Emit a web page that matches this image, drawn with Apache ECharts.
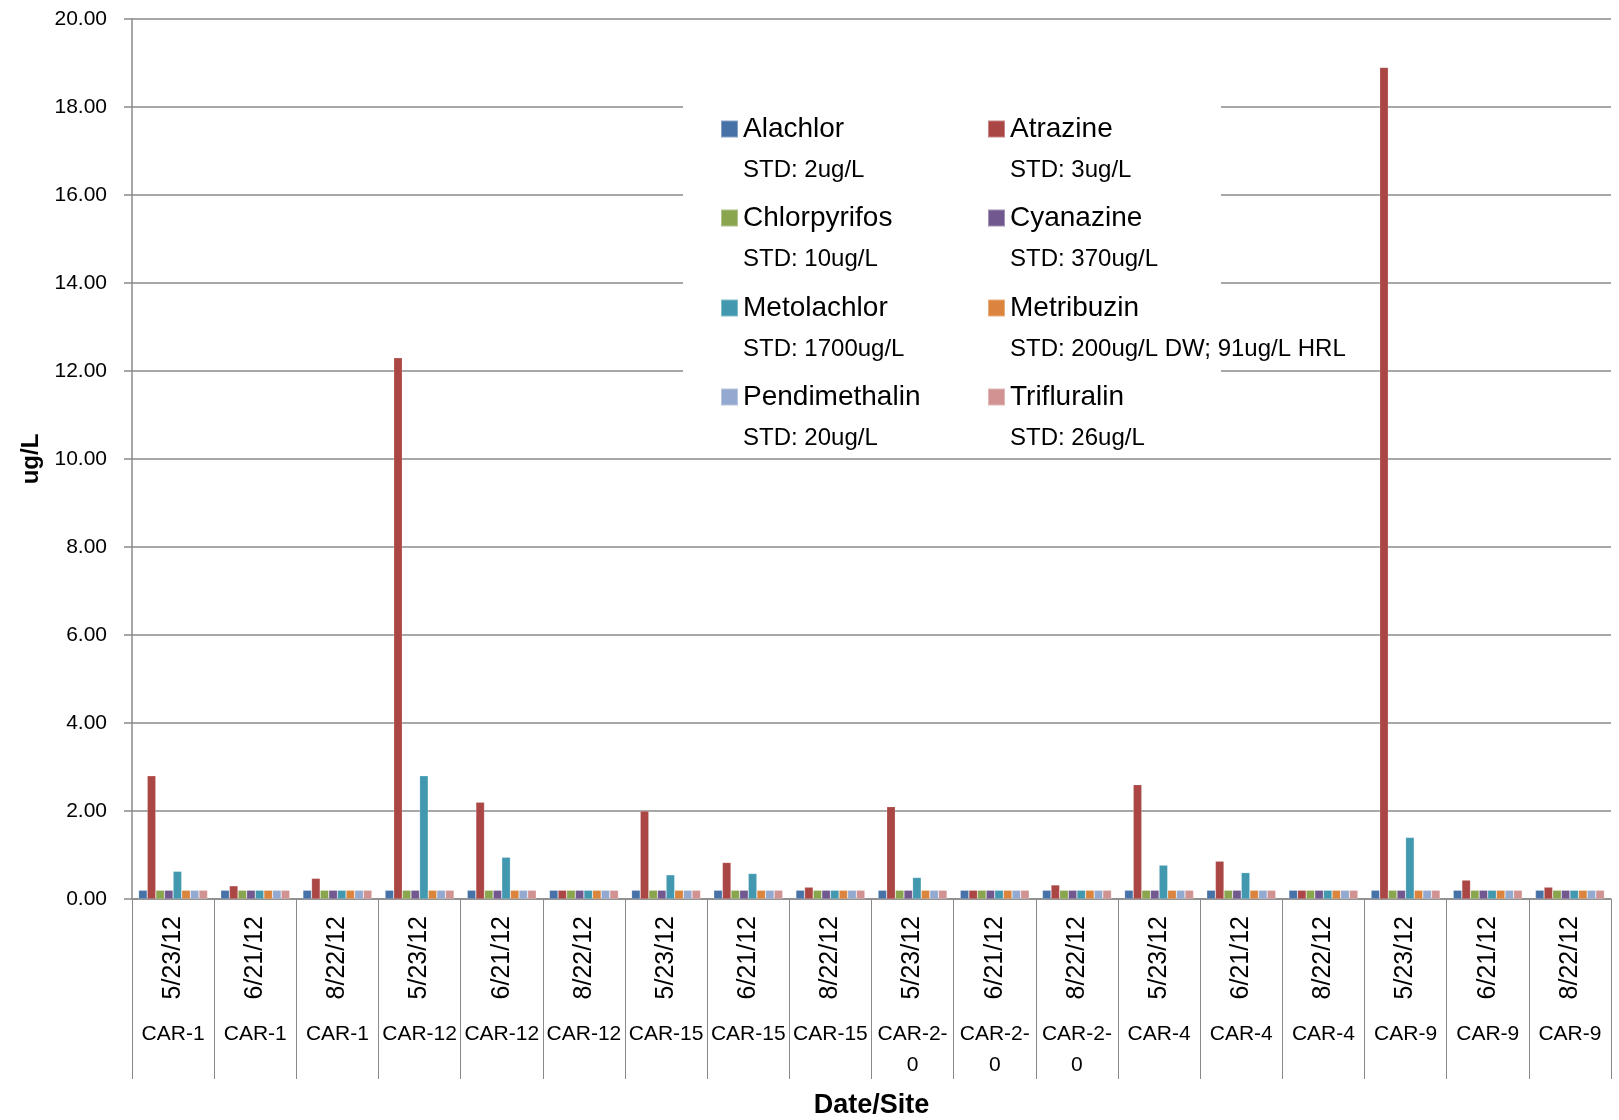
<!DOCTYPE html>
<html>
<head>
<meta charset="utf-8">
<script src="https://cdn.jsdelivr.net/npm/echarts@6/dist/echarts.min.js"></script>
<style>
html,body{margin:0;padding:0;background:#fff;}
#chart{width:1619px;height:1120px;}
</style>
</head>
<body>
<div id="chart"></div>
<script>
const dates = ['5/23/12','6/21/12','8/22/12','5/23/12','6/21/12','8/22/12','5/23/12','6/21/12','8/22/12',
               '5/23/12','6/21/12','8/22/12','5/23/12','6/21/12','8/22/12','5/23/12','6/21/12','8/22/12'];
const sites = ['CAR-1','CAR-1','CAR-1','CAR-12','CAR-12','CAR-12','CAR-15','CAR-15','CAR-15',
               'CAR-2-0','CAR-2-0','CAR-2-0','CAR-4','CAR-4','CAR-4','CAR-9','CAR-9','CAR-9'];

const seriesNames = ['Alachlor','Atrazine','Chlorpyrifos','Cyanazine','Metolachlor','Metribuzin','Pendimethalin','Trifluralin'];
const standards = ['STD: 2ug/L','STD: 3ug/L','STD: 10ug/L','STD: 370ug/L','STD: 1700ug/L','STD: 200ug/L DW; 91ug/L HRL','STD: 20ug/L','STD: 26ug/L'];

const alachlor      = [0.2,0.2,0.2,0.2,0.2,0.2,0.2,0.2,0.2,0.2,0.2,0.2,0.2,0.2,0.2,0.2,0.2,0.2];
const atrazine      = [2.8,0.3,0.47,12.3,2.2,0.2,2.0,0.83,0.27,2.1,0.2,0.32,2.6,0.86,0.2,18.9,0.43,0.27];
const chlorpyrifos  = [0.2,0.2,0.2,0.2,0.2,0.2,0.2,0.2,0.2,0.2,0.2,0.2,0.2,0.2,0.2,0.2,0.2,0.2];
const cyanazine     = [0.2,0.2,0.2,0.2,0.2,0.2,0.2,0.2,0.2,0.2,0.2,0.2,0.2,0.2,0.2,0.2,0.2,0.2];
const metolachlor   = [0.63,0.2,0.2,2.8,0.95,0.2,0.55,0.58,0.2,0.49,0.2,0.2,0.77,0.6,0.2,1.4,0.2,0.2];
const metribuzin    = [0.2,0.2,0.2,0.2,0.2,0.2,0.2,0.2,0.2,0.2,0.2,0.2,0.2,0.2,0.2,0.2,0.2,0.2];
const pendimethalin = [0.2,0.2,0.2,0.2,0.2,0.2,0.2,0.2,0.2,0.2,0.2,0.2,0.2,0.2,0.2,0.2,0.2,0.2];
const trifluralin   = [0.2,0.2,0.2,0.2,0.2,0.2,0.2,0.2,0.2,0.2,0.2,0.2,0.2,0.2,0.2,0.2,0.2,0.2];

const seriesValues = [alachlor, atrazine, chlorpyrifos, cyanazine, metolachlor, metribuzin, pendimethalin, trifluralin];
const colors = ['#4672A8','#AA4644','#89A54E','#71588F','#4198AF','#DB843D','#93A9CF','#D19392'];

const FONT = '"Liberation Sans", Arial, sans-serif';
const gridColor = '#8a8a8a';

const chart = echarts.init(document.getElementById('chart'), null, {renderer: 'canvas'});

// legend layout: two columns, four rows
const legendColLeft = [720, 987];
const legendRowTop = [83, 172, 262, 351];

function legendFor(i) {
  const col = i % 2, row = Math.floor(i / 2);
  return {
    orient: 'vertical',
    left: legendColLeft[col],
    top: legendRowTop[row],
    padding: 0,
    itemWidth: 17,
    itemHeight: 17,
    selectedMode: false,
    data: [seriesNames[i]],
    icon: 'rect',
    formatter: function (name) {
      const k = seriesNames.indexOf(name);
      return '{b| }\n{n|' + name + '}\n{s|' + standards[k] + '}';
    },
    textStyle: {
      fontFamily: FONT,
      color: '#000',
      rich: {
        b: {fontSize: 10, lineHeight: 52, fontFamily: FONT},
        n: {fontSize: 28, lineHeight: 30, fontFamily: FONT, color: '#000'},
        s: {fontSize: 24, lineHeight: 52, fontFamily: FONT, color: '#000'}
      }
    }
  };
}

const option = {
  animation: false,
  backgroundColor: '#fff',
  color: colors,
  grid: {left: 132, right: 8, top: 19, bottom: 221, containLabel: false, outerBoundsMode: 'none'},
  graphic: [{
    type: 'rect', left: 683, top: 95, z: 1,
    shape: {width: 538, height: 360},
    style: {fill: '#fff'}
  }],
  legend: seriesNames.map((n, i) => legendFor(i)),
  xAxis: [{
    type: 'category',
    data: dates,
    position: 'bottom',
    name: 'Date/Site',
    nameLocation: 'middle',
    nameGap: 193,
    nameTextStyle: {fontFamily: FONT, fontSize: 27, fontWeight: 'bold', color: '#000'},
    axisLine: {lineStyle: {color: gridColor, width: 1.5}},
    axisTick: {show: true, length: 180, interval: 0, lineStyle: {color: gridColor, width: 1}},
    axisLabel: {interval: 0, rotate: 90, margin: 17, fontFamily: FONT, fontSize: 25, color: '#000'},
    splitLine: {show: false}
  }, {
    type: 'category',
    data: sites,
    position: 'bottom',
    axisLine: {show: false},
    axisTick: {show: false},
    splitLine: {show: false},
    axisLabel: {
      interval: 0, margin: 120, fontFamily: FONT, fontSize: 21, color: '#000',
      lineHeight: 31, width: 78, overflow: 'breakAll', align: 'center'
    }
  }],
  yAxis: {
    type: 'value',
    min: 0, max: 20, interval: 2,
    name: 'ug/L',
    nameLocation: 'middle',
    nameGap: 87,
    nameTextStyle: {fontFamily: FONT, fontSize: 24, fontWeight: 'bold', color: '#000'},
    axisLine: {show: true, lineStyle: {color: gridColor, width: 1.5}},
    axisTick: {show: true, length: 8, lineStyle: {color: gridColor, width: 1.5}},
    axisLabel: {margin: 25, fontFamily: FONT, fontSize: 21, color: '#000',
      formatter: v => v.toFixed(2)},
    splitLine: {show: true, lineStyle: {color: gridColor, width: 1.5}}
  },
  series: seriesNames.map((name, i) => ({
    name: name,
    type: 'bar',
    xAxisIndex: 0,
    data: seriesValues[i],
    barGap: '0%',
    barCategoryGap: '16%',
    itemStyle: {color: colors[i], borderColor: 'rgba(255,255,255,0.35)', borderWidth: 0.6}
  }))
};

chart.setOption(option);
</script>
</body>
</html>
